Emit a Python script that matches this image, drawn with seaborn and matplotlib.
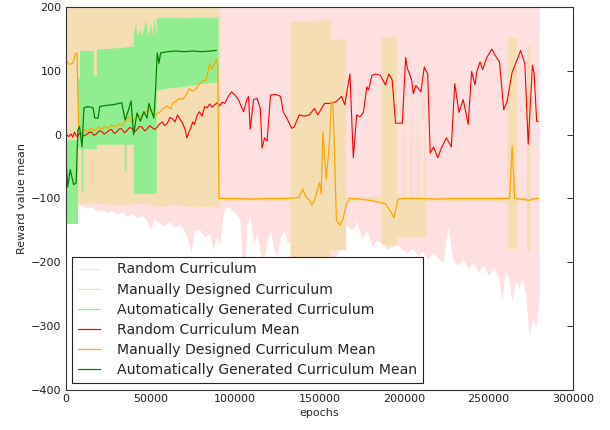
import matplotlib
matplotlib.use("Agg")
import numpy as np
import pandas as pd
import seaborn as sns
import matplotlib.pyplot as plt
from matplotlib.lines import Line2D
from matplotlib.ticker import FormatStrFormatter

# ---------------- data ----------------
LABELS = ["Random Curriculum", "Manually Designed Curriculum",
          "Automatically Generated Curriculum", "Random Curriculum Mean",
          "Manually Designed Curriculum Mean", "Automatically Generated Curriculum Mean"]

# Random curriculum mean
RAND_X = [0, 1500, 3000, 4000, 5000, 6000, 7000, 8000, 9000, 10500, 12000, 13500, 15000,
          16500, 18000, 19500, 21000, 22500, 24000, 25500, 27000, 28500, 30000, 31500,
          33000, 34500, 36000, 37500, 39000, 40500, 42000, 43500, 45000, 46500, 48000,
          49500, 51000, 52500, 54000, 55500, 57000, 58500, 60000, 61500, 63000, 64500,
          66000, 67500, 69000, 70500, 71500, 73000, 74000, 75000, 76000, 77500, 79000,
          80500, 82000, 83500, 85000, 86500, 88000, 89500, 91000, 92500, 94000,
          96000, 98000, 100000, 102000, 105000, 107000, 108000, 109000, 111000, 113000,
          115000, 116000, 117500, 119000, 121000, 124000, 127000, 128500, 131000, 133500,
          135000, 138000, 141000, 144000, 147000, 149000, 153000, 157000, 160000, 163000,
          165000, 168000, 170000, 172000, 174000, 176000, 178000, 179000, 181000, 183000,
          186000, 189000, 191000, 193000, 195000, 199000, 201000, 202000, 204500, 205500,
          207000, 210000, 212000, 214000, 215500, 217500, 219000, 220000, 222000, 225000,
          228000, 230000, 232500, 235000, 238000, 240000, 242000, 243000, 245000, 246500,
          249000, 252000, 254000, 256500, 259000, 261000, 264000, 267000, 269000, 271500,
          273500, 276000, 277000, 278500, 279500]
RAND_Y = [2, -3, 1, -4, 4, -2, -3, 3, 2, -2, 0, 3, 4, -1, 1, 6, 5, 1, 3, 7, 8, 2, 4, 9,
          9, 3, 6, 11, 10, 4, 8, 13, 12, 6, 9, 14, 11, 8, 12, 17, 20, 14, 18, 27, 25, 20,
          31, 24, 18, 8, -5, 6, 12, 20, 16, 30, 36, 29, 44, 42, 48, 43, 47, 50, 45, 51, 49,
          60, 67, 62, 55, 36, 55, 60, 9, 55,
          57, 41, -21, -5, -10, 62, 63, 60, 36, 24, 10, 12, 31, 29, 31, 41, 31, 49, 49,
          52, 60, 47, 95, -36, 31, 28, 35, 75, 70, 93, 95, 93, 78, 95, 86, 18, 18, 121,
          104, 86, 64, 77, 67, 106, 95, -29, -19, -29, -36, -22, -5, -19, 80, 35, 55, 16,
          99, 78, 98, 114, 102, 121, 134, 124, 114, 39, 52, 98, 118, 132, 111, -15, 109,
          96, 21, 21]

# Manually designed curriculum mean
MAN_X = [0, 2000, 4000, 5500, 6500, 7500, 9000, 11000, 13000, 15000, 17000, 19000, 21000,
         23000, 25000, 27000, 29000, 31000, 33000, 35000, 37000, 39000, 41000, 43000,
         45000, 47000, 49000, 51000, 53000, 56000, 58000, 60000, 62000, 63000, 65000,
         67000, 69000, 71000, 73000, 75000, 77000, 79000, 81000, 83000, 85000, 86500,
         88000, 89000, 89800, 90500, 100000, 110000, 120000, 130000, 136000, 138000,
         140000, 142000, 144000, 145500, 147000, 150000, 151000, 152000, 154000, 156000,
         157000, 158000, 160000, 162000, 164000, 166000, 168000, 175000, 180000, 185000,
         189000, 192000, 194000, 196500, 200000, 210000, 220000, 230000, 240000, 250000,
         260000, 262500, 264000, 265500, 268000, 271000, 273500, 276000, 279500]
MAN_Y = [117, 110, 112, 126, 128, 5, 2, 8, 5, 10, 6, 12, 8, 13, 10, 15, 12, 16, 14, 21,
         28, 20, 25, 31, 28, 35, 41, 33, 31, 36, 42, 45, 40, 49, 52, 57, 55, 62, 72, 68,
         72, 80, 84, 86, 111, 103, 112, 118, 110, -100, -100, -101, -100, -100, -99, -98,
         -85, -98, -102, -110, -103, -75, -93, 5, -70, -7, 52, 50, -134, -142, -131, -108,
         -100, -101, -103, -106, -108, -120, -130, -101, -100, -100, -101, -100, -100,
         -100, -100, -100, -18, -100, -101, -101, -103, -101, -100]

# Automatically generated curriculum mean
AUTO_X = [0, 1000, 2500, 4500, 6000, 7000, 8000, 9500, 10600, 13000, 16000, 17000,
          19000, 20000, 24000, 28000, 33000, 35000, 37000, 38500, 40000, 42000, 44000,
          46000, 48000, 49000, 52000, 53000, 54000, 55000, 56000, 60000, 65000, 70000,
          75000, 80000, 85000, 89000]
AUTO_Y = [-40, -82, -55, -78, -76, 7, 13, -19, 42, 44, 42, 26, 26, 44, 46, 47, 50, 23,
          39, 53, 0, 34, 21, 36, 26, 49, 26, 70, 128, 112, 128, 130, 131, 130, 131, 130,
          131, 132]

# Random curriculum min/max band (max lies above the plotted range)
RAND_BAND_X = [0, 3000, 6000, 9000, 12000, 15000, 18000, 21000, 24000, 27000, 30000,
               33000, 36000, 39000, 42000, 45000, 48000, 50000, 52000, 55000, 58000,
               61000, 64000, 67000, 70000, 72000, 74000, 76000, 79000, 82000, 85000,
               87000, 89000, 91000, 93000, 95000, 98000, 101000, 103000, 105000, 107000,
               109000, 111000, 113000, 115000, 117000, 119000, 121000, 123000, 125000,
               127000, 129000, 131000, 133000, 145000, 157000, 160000, 163000, 166000,
               169000, 172000, 175000, 178000, 181000, 184000, 187000, 190000, 193000,
               196000, 199000, 202000, 205000, 208000, 211000, 214000, 217000, 220000,
               223000, 226000, 229000, 232000, 235000, 238000, 241000, 244000, 247000,
               250000, 253000, 256000, 258000, 260000, 262000, 264000, 266000, 268000,
               270000, 272000, 274000, 276000, 278000, 280000]
RAND_BAND_LOW = [-118, -112, -116, -110, -115, -113, -120, -117, -122, -119, -125, -121,
                 -128, -124, -130, -127, -135, -150, -132, -138, -142, -136, -145, -140,
                 -150, -165, -185, -150, -148, -160, -155, -180, -160, -172, -125, -112,
                 -118, -125, -135, -240, -140, -130, -170, -155, -185, -200, -165, -150,
                 -180, -190, -160, -150, -170, -165, -200, -200, -190, -170, -140, -150,
                 -135, -165, -150, -175, -165, -170, -180, -175, -172, -180, -185, -178,
                 -190, -183, -195, -185, -192, -200, -145, -196, -205, -195, -210, -200,
                 -215, -205, -220, -208, -225, -260, -215, -225, -262, -230, -240, -225,
                 -250, -318, -290, -300, -260]
RAND_BAND_HIGH = 200

# Manually designed curriculum min/max band
MAN_BAND_X = [0, 7000, 15000, 25000, 35000, 45000, 55000, 65000, 75000, 85000, 90500,
              91000, 91000, 132500, 132500, 156500, 156500, 165500, 165500, 186500,
              186500, 195500, 195500, 199500, 200000, 200500, 203500, 204000, 204500,
              207500, 208000, 208500, 211500, 212000, 212500, 213000, 213000, 261000,
              261000, 266500, 266500, 272500, 272500, 274500, 274500, 280000]
MAN_BAND_HIGH = [200, 200, 200, 200, 200, 200, 200, 200, 200, 200, 200, 200, -97, -97,
                 178, 180, 150, 150, -97, -97, 153, 153, -96, -96, 145, -96, -96, 148,
                 -96, -96, 140, -96, -96, 150, -96, -96, -97, -97, 152, 152, -97, -97,
                 140, 140, -97, -97]
MAN_BAND_LOW = [-110, -108, -106, -109, -110, -107, -112, -110, -113, -112, -115, -118,
                -103, -103, -250, -250, -180, -180, -104, -104, -172, -172, -160, -160,
                -160, -160, -160, -160, -160, -160, -160, -160, -160, -160, -160, -160,
                -104, -104, -178, -178, -104, -104, -182, -182, -104, -104]

# Automatically generated curriculum min/max band
AUTO_BAND_X = [0, 6800, 6800, 8000, 8000, 9000, 9000, 10000, 10000, 16200, 16200, 18000,
               18000, 34500, 34500, 35500, 35500, 39800, 39800, 41000, 42000, 44000,
               45000, 47000, 48500, 50000, 51000, 52000, 53400, 53400, 60000, 70000,
               80000, 90000]
AUTO_BAND_HIGH = [-8, -8, 88, 88, 132, 132, 132, 132, 132, 132, 93, 93, 134, 137, 137,
                  137, 138, 139, 155, 175, 155, 165, 155, 180, 155, 175, 155, 185, 155,
                  183, 184, 183, 184, 184]
AUTO_BAND_LOW = [-139, -139, -20, -20, -22, -22, -90, -90, -22, -22, -22, -22, -15, -15,
                 -57, -57, -15, -15, -92, -92, -92, -92, -92, -92, -92, -92, -92, -92,
                 -92, 70, 73, 76, 80, 83]

X_TICKS = [0, 50000, 100000, 150000, 200000, 250000, 300000]
Y_TICKS = [-400, -300, -200, -100, 0, 100, 200]

BAND_COLORS = ["#ffe0e0", "#f5deb3", "#90ee90"]
LINE_COLORS = ["#ff0000", "#ffa500", "#008000"]

# ---------------- plotting ----------------
sns.set_theme(style="white")
plt.rcParams["font.family"] = ["DejaVu Sans"]
plt.rcParams.update({
    "xtick.direction": "in", "ytick.direction": "in",
    "xtick.top": True, "ytick.right": True,
    "xtick.major.size": 5, "ytick.major.size": 5,
    "xtick.major.width": 0.8, "ytick.major.width": 0.8,
    "xtick.color": "#222222", "ytick.color": "#222222",
    "axes.edgecolor": "#333333", "axes.linewidth": 1.0,
})

fig = plt.figure(figsize=(610 / 80, 430 / 80), dpi=80)
ax = fig.add_axes([66 / 610, 40 / 430, 507 / 610, 383 / 430])

ax.fill_between(RAND_BAND_X, RAND_BAND_LOW, RAND_BAND_HIGH, color=BAND_COLORS[0], lw=0)
ax.fill_between(MAN_BAND_X, MAN_BAND_LOW, MAN_BAND_HIGH, color=BAND_COLORS[1], lw=0)
ax.fill_between(AUTO_BAND_X, AUTO_BAND_LOW, AUTO_BAND_HIGH, color=BAND_COLORS[2], lw=0)

df_r = pd.DataFrame({"epochs": RAND_X, "v": RAND_Y})
df_m = pd.DataFrame({"epochs": MAN_X, "v": MAN_Y})
df_a = pd.DataFrame({"epochs": AUTO_X, "v": AUTO_Y})
sns.lineplot(data=df_r, x="epochs", y="v", estimator=None, sort=False, color=LINE_COLORS[0], lw=1.0, ax=ax)
sns.lineplot(data=df_m, x="epochs", y="v", estimator=None, sort=False, color=LINE_COLORS[1], lw=1.1, ax=ax)
sns.lineplot(data=df_a, x="epochs", y="v", estimator=None, sort=False, color=LINE_COLORS[2], lw=1.1, ax=ax)

ax.set_xlim(0, 300000)
ax.set_ylim(-400, 200)
ax.set_xticks(X_TICKS)
ax.set_yticks(Y_TICKS)
ax.xaxis.set_major_formatter(FormatStrFormatter("%d"))
ax.tick_params(labelsize=10, pad=4)
ax.set_xlabel("epochs", fontsize=10, labelpad=3)
ax.set_ylabel("Reward value mean", fontsize=10, labelpad=4)
for s in ax.spines.values():
    s.set_visible(True)

handles = [Line2D([], [], color=c, lw=1.1) for c in BAND_COLORS + LINE_COLORS]
leg = ax.legend(handles, LABELS, loc="lower left", bbox_to_anchor=(0.012, 0.018),
                borderaxespad=0, fontsize=12.6, frameon=True, fancybox=False,
                framealpha=1, edgecolor="#222222", handlelength=1.55,
                handletextpad=1.25, labelspacing=0.44, borderpad=0.42)
leg.get_frame().set_linewidth(1.0)

fig.savefig("out.png", dpi=80)
